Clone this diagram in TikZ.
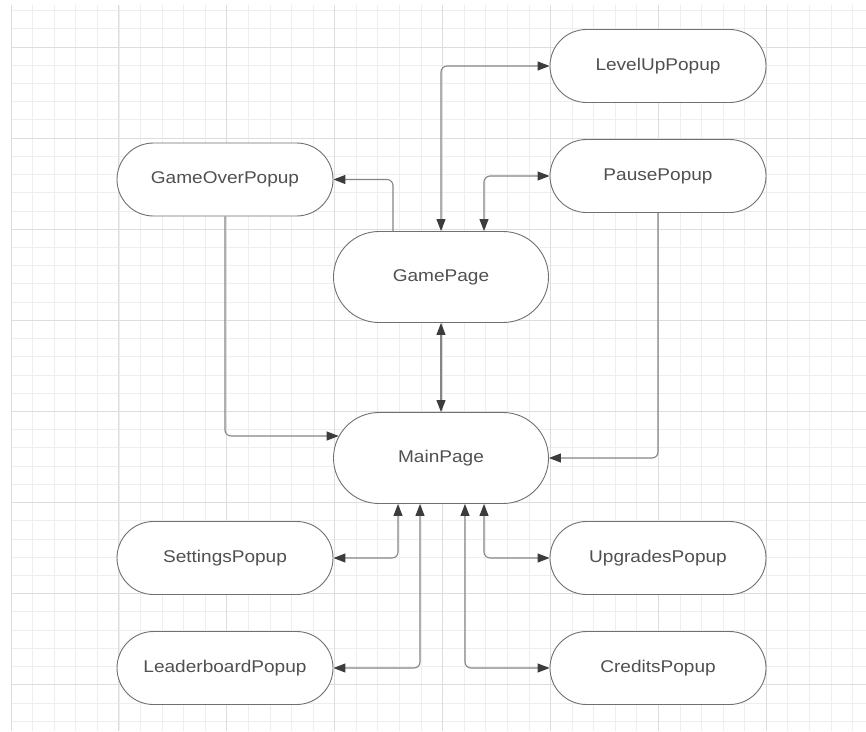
\documentclass[tikz,border=0pt]{standalone}
\usepackage{fontspec}
\setmainfont{Liberation Sans}[FakeStretch=1.12]
\usetikzlibrary{shapes.misc,arrows.meta,calc}

\definecolor{minorgrid}{HTML}{EEEEEE}
\definecolor{majorgrid}{HTML}{DDDDDD}
\definecolor{bordergray}{HTML}{707070}
\definecolor{conngray}{HTML}{858585}
\definecolor{tipgray}{HTML}{3C3C3C}
\definecolor{txtgray}{HTML}{505050}

\begin{document}
\begin{tikzpicture}[x=1pt,y=-1pt,
  >={Triangle[length=12pt,width=9pt,color=tipgray]},
  state/.style={rounded rectangle, draw=bordergray, line width=0.9pt, fill=white,
    minimum width=216pt, minimum height=73pt, inner sep=0pt, text=txtgray,
    font=\fontsize{17}{20}\selectfont},
  page/.style={state, minimum width=215pt, minimum height=91pt},
  link/.style={draw=conngray, line width=1.1pt, rounded corners=6pt},
  minorline/.style={draw=minorgrid, line width=0.8pt},
  majorline/.style={draw=majorgrid, line width=1pt}]

\useasboundingbox (0,0) rectangle (866,731);
\fill[white] (0,0) rectangle (866,731);

% background grid: minor lines every fifth of a major cell
\foreach \k in {0,...,39} {
  \pgfmathsetmacro\xx{11+21.58*\k}
  \draw[minorline] (\xx,5) -- (\xx,731);
}
\foreach \k in {-2,...,37} {
  \pgfmathsetmacro\yy{47+18.22*\k}
  \draw[minorline] (11,\yy) -- (866,\yy);
}
\foreach \k in {0,...,7} {
  \pgfmathsetmacro\xx{11+107.9*\k}
  \draw[majorline] (\xx,5) -- (\xx,731);
}
\foreach \k in {0,...,7} {
  \pgfmathsetmacro\yy{47+91.1*\k}
  \draw[majorline] (11,\yy) -- (866,\yy);
}

% states
\node[state] (levelup)     at (658,66)    {LevelUpPopup};
\node[state] (pause)       at (658,176)   {PausePopup};
\node[state] (gameover)    at (225,179.5) {GameOverPopup};
\node[page]  (gamepage)    at (441,277)   {GamePage};
\node[page]  (mainpage)    at (441,458)   {MainPage};
\node[state] (settings)    at (225,558)   {SettingsPopup};
\node[state] (leaderboard) at (225,668)   {LeaderboardPopup};
\node[state] (upgrades)    at (658,558)   {UpgradesPopup};
\node[state] (credits)     at (658,668)   {CreditsPopup};

% transitions around the game page
\draw[link,<->] (gamepage.north) |- (levelup.west);
\draw[link,<->] ($(gamepage.north)+(43,0)$) |- (pause.west);
\draw[link,->]  ($(gamepage.north)+(-48,0)$) |- (gameover.east);
\draw[link,<->] (gamepage.south) -- (mainpage.north);

% returns to the main page
\draw[link,->] (pause.south) |- (mainpage.east);
\draw[link,->] (gameover.south) |- ($(mainpage.west)+(5.6,-22)$);

% popups opened from the main page
\draw[link,<->] ($(mainpage.south)+(-43,0)$) |- (settings.east);
\draw[link,<->] ($(mainpage.south)+(-21,0)$) |- (leaderboard.east);
\draw[link,<->] ($(mainpage.south)+(43,0)$) |- (upgrades.west);
\draw[link,<->] ($(mainpage.south)+(24,0)$) |- (credits.west);
\end{tikzpicture}
\end{document}
